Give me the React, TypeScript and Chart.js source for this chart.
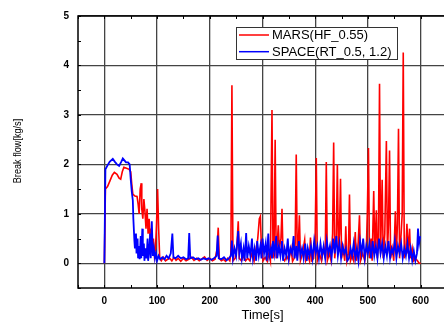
import React, { useEffect, useRef } from "react";
import { Chart, registerables } from "chart.js";

Chart.register(...registerables);

const seriesLabels = ["MARS(HF_0.55)", "SPACE(RT_0.5, 1.2)"];
const seriesColors = ["#ff0000", "#0000ff"];
const xTitle = "Time[s]";
const yTitle = "Break flow[kg/s]";

const xTicks = [0, 100, 200, 300, 400, 500, 600];
const yTicks = [0, 1, 2, 3, 4, 5];
const xMinorTicks = [-50, 0, 50, 100, 150, 200, 250, 300, 350, 400, 450, 500, 550, 600, 650];
const yMinorTicks = [-0.5, 0, 0.5, 1, 1.5, 2, 2.5, 3, 3.5, 4, 4.5, 5];

const marsTime = [
  0, 1, 2, 6, 10, 15, 19, 24, 28, 31,
  34, 37, 42, 47, 50, 52, 54, 58, 62, 64,
  66, 68, 70, 71, 73, 75, 77, 79, 81, 83,
  85, 87, 89, 91, 93, 95, 97, 99, 101, 103,
  105, 108, 112, 116, 120, 124, 128, 132, 136, 140,
  145, 150, 155, 160, 165, 170, 175, 180, 185, 190,
  195, 200, 205, 210, 214, 216, 218, 222, 226, 230,
  234, 238, 240, 242, 244, 248, 251, 254, 256, 260,
  264, 268, 272, 276, 280, 284, 288, 291, 294, 296,
  298, 301, 305, 309, 312, 315, 318, 320, 322, 324,
  326, 328, 330, 332, 335, 337, 339, 342, 346, 350,
  354, 357, 360, 362, 364, 366, 368, 370, 372, 376,
  380, 382, 386, 389, 391, 393, 397, 400, 402, 404,
  408, 412, 416, 419, 421, 423, 427, 430, 433, 435,
  437, 440, 442, 444, 446, 448, 450, 453, 456, 458,
  460, 463, 465, 467, 470, 473, 476, 478, 481, 484,
  486, 490, 494, 497, 499, 501, 503, 506, 508, 511,
  513, 516, 518, 520, 522, 524, 527, 529, 532, 535,
  537, 539, 541, 543, 546, 549, 552, 554, 556, 558,
  560, 563, 565, 567, 569, 572, 574, 576, 579, 581,
  584, 587, 590, 594, 597, 600,
];
const marsFlow = [
  0, 0, 1.5, 1.55, 1.65, 1.78, 1.84, 1.8, 1.72, 1.7,
  1.85, 1.94, 1.92, 1.9, 1.85, 1.6, 1.4, 1.36, 1.35, 1.2,
  1.0, 1.5, 1.62, 1.1, 0.9, 1.3, 1.05, 0.7, 1.1, 0.6,
  0.9, 0.45, 0.7, 0.3, 0.5, 0.15, 0.3, 0.8, 1.5, 0.7,
  0.1, 0.05, 0.12, 0.05, 0.08, 0.1, 0.05, 0.12, 0.06, 0.1,
  0.04, 0.1, 0.05, 0.08, 0.12, 0.06, 0.1, 0.05, 0.09, 0.13,
  0.06, 0.1, 0.05, 0.08, 0.3, 0.72, 0.1, 0.05, 0.08, 0.04,
  0.1, 0.05, 0.2, 3.6, 0.05, 0.1, 0.3, 0.85, 0.1, 0.05,
  0.15, 0.05, 0.1, 0.05, 0.2, 0.04, 0.3, 0.5, 0.9, 0.95,
  0.3, 0.05, 0.12, 0.04, 0.2, 0.05, 3.1, 0.1, 0.3, 2.5,
  0.1, 0.4, 0.77, 0.3, 0.5, 1.1, 0.1, 0.05, 0.15, 0.05,
  0.3, 0.04, 0.1, 0.4, 2.2, 0.1, 0.4, 0.97, 0.05, 0.2,
  0.47, 0.05, 0.15, 0.05, 0.52, 0.05, 0.1, 0.6, 2.13, 0.05,
  0.2, 0.05, 0.3, 0.1, 2.05, 0.05, 0.2, 0.05, 0.6, 2.44,
  0.1, 0.5, 2.0, 0.3, 0.6, 1.71, 0.1, 0.3, 0.05, 0.75,
  0.05, 0.2, 1.39, 0.05, 0.15, 0.05, 0.63, 0.05, 0.3, 0.97,
  0.05, 0.2, 0.05, 0.3, 1.07, 2.33, 0.1, 0.5, 0.05, 1.46,
  0.2, 1.07, 0.1, 0.5, 3.63, 0.2, 1.69, 0.1, 0.6, 2.47,
  0.2, 0.8, 2.28, 0.1, 0.3, 0.05, 1.05, 0.2, 0.8, 2.72,
  0.1, 0.6, 1.0, 4.26, 0.1, 0.3, 0.8, 0.2, 0.7, 0.1,
  0.3, 0.05, 0.1, 0.05, 0.0, 0.0,
];

const spaceTime = [
  0, 1, 2, 6, 10, 16, 20, 24, 28, 32,
  35, 38, 41, 45, 48, 50, 52, 54, 55, 57,
  58, 60, 61, 63, 64, 66, 67, 69, 70, 72,
  73, 75, 76, 78, 80, 82, 83, 85, 87, 88,
  90, 92, 94, 96, 98, 100, 103, 106, 110, 114,
  118, 122, 126, 129, 131, 135, 140, 145, 150, 155,
  159, 161, 163, 168, 173, 178, 183, 188, 193, 198,
  203, 208, 213, 215, 217, 222, 227, 232, 236, 240,
  242, 244, 247, 250, 252, 254, 256, 259, 261, 264,
  266, 269, 271, 274, 277, 280, 282, 285, 288, 290,
  293, 296, 298, 300, 303, 306, 308, 311, 313, 316,
  318, 320, 323, 326, 328, 331, 334, 337, 339, 342,
  345, 348, 350, 353, 356, 359, 361, 364, 366, 369,
  372, 375, 378, 381, 384, 386, 389, 392, 395, 398,
  401, 404, 407, 410, 413, 416, 419, 422, 425, 428,
  431, 434, 437, 440, 443, 446, 449, 452, 455, 458,
  461, 464, 467, 470, 473, 476, 479, 482, 485, 488,
  491, 494, 497, 500, 503, 506, 509, 512, 515, 518,
  521, 524, 527, 530, 533, 536, 539, 542, 545, 548,
  551, 554, 557, 560, 563, 566, 569, 572, 575, 578,
  581, 584, 587, 590, 593, 595, 597, 599,
];
const spaceFlow = [
  0, 0, 1.9, 1.98, 2.05, 2.11, 2.05, 2.0, 1.97, 2.05,
  2.12, 2.08, 2.04, 2.04, 2.0, 1.7, 1.45, 1.27, 0.9, 0.45,
  0.3, 0.6, 0.2, 0.5, 0.1, 0.35, 0.08, 0.55, 0.1, 0.7,
  0.15, 0.4, 0.05, 0.3, 0.1, 0.5, 0.05, 0.25, 0.6, 0.1,
  0.85, 0.15, 0.3, 0.1, 0.2, 0.05, 0.15, 0.08, 0.12, 0.08,
  0.15, 0.1, 0.2, 0.6, 0.12, 0.1, 0.15, 0.1, 0.12, 0.08,
  0.1, 0.61, 0.1, 0.12, 0.08, 0.1, 0.07, 0.1, 0.08, 0.1,
  0.07, 0.1, 0.15, 0.56, 0.1, 0.08, 0.12, 0.06, 0.1, 0.15,
  0.46, 0.1, 0.3, 0.15, 0.4, 0.65, 0.2, 0.4, 0.1, 0.3,
  0.05, 0.61, 0.1, 0.35, 0.15, 0.5, 0.1, 0.3, 0.05, 0.45,
  0.15, 0.35, 0.1, 0.5, 0.2, 0.4, 0.05, 0.6, 0.15, 0.3,
  0.1, 0.45, 0.2, 0.55, 0.1, 0.35, 0.15, 0.45, 0.05, 0.3,
  0.15, 0.5, 0.1, 0.3, 0.2, 0.55, 0.1, 0.35, 0.05, 0.45,
  0.15, 0.3, 0.1, 0.4, 0.05, 0.3, 0.15, 0.35, 0.1, 0.45,
  0.2, 0.35, 0.1, 0.4, 0.15, 0.35, 0.1, 0.45, 0.2, 0.35,
  0.1, 0.5, 0.2, 0.55, 0.15, 0.4, 0.1, 0.35, 0.2, 0.3,
  0.05, 0.1, 0.3, 0.15, 0.4, 0.1, 0.3, 0.05, 0.45, 0.2,
  0.5, 0.1, 0.35, 0.2, 0.4, 0.1, 0.45, 0.15, 0.35, 0.1,
  0.5, 0.2, 0.4, 0.1, 0.35, 0.15, 0.45, 0.1, 0.3, 0.2,
  0.45, 0.1, 0.35, 0.2, 0.4, 0.1, 0.3, 0.15, 0.4, 0.1,
  0.3, 0.05, 0.25, 0.05, 0.2, 0.7, 0.4, 0.55,
];

const FONT = 'Arial, "Liberation Sans", sans-serif';

const framePlugin = {
  id: "frameTicksLegend",
  afterDatasetsDraw(chart: any) {
    const { ctx, chartArea: a, scales } = chart;
    const xs = scales.x;
    const ys = scales.y;
    ctx.save();
    // inward minor/major ticks
    ctx.strokeStyle = "#000";
    ctx.lineWidth = 1;
    ctx.beginPath();
    xMinorTicks.forEach((v) => {
      const px = Math.round(xs.getPixelForValue(v)) + 0.5;
      ctx.moveTo(px, a.bottom);
      ctx.lineTo(px, a.bottom - 3);
      ctx.moveTo(px, a.top);
      ctx.lineTo(px, a.top + 3);
    });
    yMinorTicks.forEach((v) => {
      const py = Math.round(ys.getPixelForValue(v)) + 0.5;
      ctx.moveTo(a.left, py);
      ctx.lineTo(a.left + 3, py);
      ctx.moveTo(a.right, py);
      ctx.lineTo(a.right - 3, py);
    });
    ctx.stroke();
    // frame
    ctx.lineWidth = 1.5;
    ctx.strokeStyle = "#000";
    ctx.strokeRect(a.left, a.top, a.right - a.left, a.bottom - a.top);

    // y axis title (condensed along its length, as in the reference)
    ctx.save();
    ctx.translate(18, (a.top + a.bottom) / 2 - 1);
    ctx.rotate(-Math.PI / 2);
    ctx.scale(0.83, 1);
    ctx.font = `11px ${FONT}`;
    ctx.fillStyle = "#000";
    ctx.textAlign = "center";
    ctx.textBaseline = "middle";
    ctx.fillText(yTitle, 0, 0);
    ctx.restore();

    // legend
    const lx = a.left + 158;
    const ly = a.top + 11;
    const lw = 161;
    const lh = 32;
    ctx.fillStyle = "#fff";
    ctx.fillRect(lx, ly, lw, lh);
    ctx.lineWidth = 1;
    ctx.strokeStyle = "#333";
    ctx.strokeRect(lx + 0.5, ly + 0.5, lw, lh);
    ctx.font = `13px ${FONT}`;
    ctx.textBaseline = "middle";
    ctx.textAlign = "left";
    chart.data.datasets.forEach((ds: any, i: number) => {
      const cy = ly + 8 + i * 16.7;
      ctx.strokeStyle = ds.borderColor;
      ctx.lineWidth = 1.5;
      ctx.beginPath();
      ctx.moveTo(lx + 3, cy);
      ctx.lineTo(lx + 33, cy);
      ctx.stroke();
      ctx.fillStyle = "#000";
      ctx.fillText(ds.label, lx + 36, cy + 0.5);
    });
    ctx.restore();
  },
};

export default function App() {
  const canvasRef = useRef<HTMLCanvasElement | null>(null);

  useEffect(() => {
    const canvas = canvasRef.current;
    if (!canvas) return;
    const marsData = marsTime.map((t, i) => ({ x: t, y: marsFlow[i] }));
    const spaceData = spaceTime.map((t, i) => ({ x: t, y: spaceFlow[i] }));
    const chart = new Chart(canvas, {
      type: "line",
      data: {
        datasets: [
          {
            label: seriesLabels[0],
            data: marsData,
            borderColor: seriesColors[0],
            backgroundColor: seriesColors[0],
            borderWidth: 1.6,
            pointRadius: 0,
            tension: 0,
            order: 2,
          },
          {
            label: seriesLabels[1],
            data: spaceData,
            borderColor: seriesColors[1],
            backgroundColor: seriesColors[1],
            borderWidth: 1.8,
            pointRadius: 0,
            tension: 0,
            order: 1,
          },
        ],
      },
      options: {
        responsive: false,
        animation: false,
        devicePixelRatio: 1,
        layout: { padding: { left: 0, top: 16, right: 13, bottom: 0 } },
        plugins: {
          legend: { display: false },
          tooltip: { enabled: false },
        },
        scales: {
          x: {
            type: "linear",
            min: -50,
            max: 650,
            afterBuildTicks: (s: any) => {
              s.ticks = xTicks.map((v) => ({ value: v }));
            },
            afterFit: (s: any) => {
              s.height = 35;
            },
            grid: { color: "#444", lineWidth: 1.3, drawTicks: false },
            border: { display: false },
            ticks: {
              color: "#000",
              font: { family: FONT, size: 10, weight: "bold" },
              padding: 7,
              maxRotation: 0,
            },
            title: {
              display: true,
              text: xTitle,
              color: "#000",
              font: { family: FONT, size: 13 },
              padding: { top: 0, bottom: 0 },
            },
          },
          y: {
            type: "linear",
            min: -0.5,
            max: 5,
            afterBuildTicks: (s: any) => {
              s.ticks = yTicks.map((v) => ({ value: v }));
            },
            afterFit: (s: any) => {
              s.width = 78;
            },
            grid: { color: "#444", lineWidth: 1.3, drawTicks: false },
            border: { display: false },
            ticks: {
              color: "#000",
              font: { family: FONT, size: 10, weight: "bold" },
              padding: 9,
            },
            title: { display: false },
          },
        },
      },
      plugins: [framePlugin],
    } as any);
    return () => chart.destroy();
  }, []);

  return (
    <div
      style={{
        position: "fixed",
        left: 0,
        top: 0,
        width: 444,
        height: 323,
        overflow: "hidden",
        background: "#fff",
      }}
    >
      <canvas
        ref={canvasRef}
        width={460}
        height={323}
        style={{ width: 460, height: 323, display: "block" }}
      />
    </div>
  );
}
